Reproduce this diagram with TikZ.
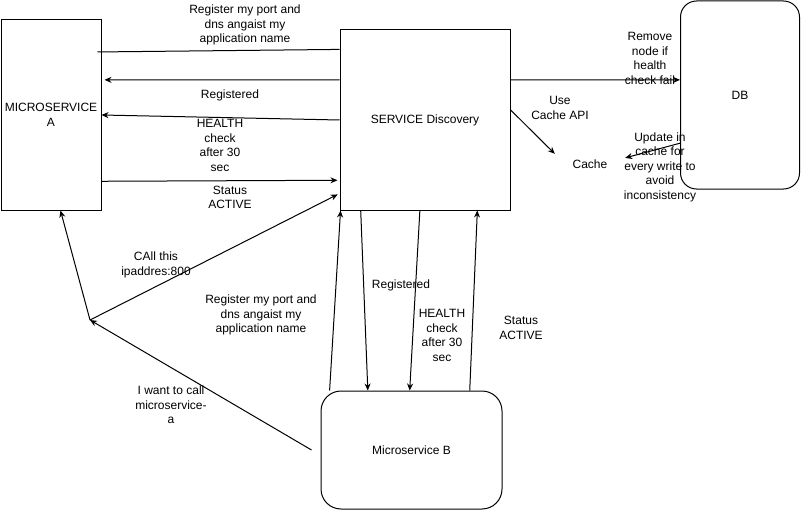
\documentclass[tikz,border=0pt]{standalone}
\usepackage{fontspec}
\setmainfont{Liberation Sans}
\usepackage{tikz}
\usetikzlibrary{calc, arrows.meta}
\tikzstyle{box}      = [rectangle, draw=black, line width=1pt, align=center, inner sep=0pt, font=\fontsize{12}{14.5}\selectfont]
\tikzstyle{roundbox} = [box, rounded corners=16pt]
\tikzstyle{lbl}      = [align=center, inner sep=0pt, font=\fontsize{12}{14.5}\selectfont]
\tikzstyle{arrow}    = [line width=1pt, -{Stealth[length=7pt,width=6pt]}]
\tikzstyle{plain}    = [line width=1pt]

\begin{document}
\begin{tikzpicture}[x=1pt,y=-1pt]
  \useasboundingbox (0,0) rectangle (801,511);
  \node[box, minimum width=100pt, minimum height=190pt] (MicroA) at (51,115) {MICROSERVICE\\A};
  \node[box, minimum width=170pt, minimum height=180pt] (SD) at (425,120) {SERVICE Discovery};
  \node[roundbox, minimum width=119pt, minimum height=188pt] (DB) at (740,95) {DB};
  \node[roundbox, minimum width=181pt, minimum height=118pt, rounded corners=20pt] (MicroB) at (411.5,450) {Microservice B};
  \node[lbl, minimum width=70pt, minimum height=20pt] (Cache) at (590,164) {Cache};
  \coordinate (Caller) at (90,320);
  % microservice A <-> service discovery
  \draw[plain] ([xshift=-4pt]$(MicroA.north east)!0.17!(MicroA.south east)$) -- ($(SD.north west)!0.11!(SD.south west)$);
  \draw[arrow, shorten >=3pt] ($(SD.north west)!0.278!(SD.south west)$) -- ($(MicroA.north east)!0.316!(MicroA.south east)$);
  \draw[arrow] ($(SD.north west)!0.5!(SD.south west)$) -- ($(MicroA.north east)!0.5!(MicroA.south east)$);
  \draw[arrow, shorten >=2pt] ($(MicroA.north east)!0.847!(MicroA.south east)$) -- ($(SD.north west)!0.833!(SD.south west)$);
  \node[lbl] (RegA) at (245,25) {Register my port and\\dns angaist my\\application name};
  \node[lbl] (RegdA) at (230,95) {Registered};
  \node[lbl] (HealthA) at (220,145.5) {HEALTH\\check\\after 30\\sec};
  \node[lbl] (StatusA) at (230,197.5) {Status\\ACTIVE};
  % call path
  \draw[arrow, shorten >=2pt] (Caller) -- ($(SD.north west)!0.906!(SD.south west)$);
  \draw[arrow] (Caller) -- ($(MicroA.south west)!0.594!(MicroA.south east)$);
  \draw[arrow] ([xshift=-9pt]MicroB.west) -- (Caller);
  \node[lbl] (CallIp) at (156,265) {CAll this\\ipaddres:800};
  \node[lbl] (WantCall) at (171,405) {I want to call\\microservice-\\a};
  % microservice B <-> service discovery
  \draw[arrow] ($(MicroB.north west)!0.05!(MicroB.north east)$) -- ($(SD.south west)!0.006!(SD.south east)$);
  \draw[arrow] ($(SD.south west)!0.124!(SD.south east)$) -- ($(MicroB.north west)!0.26!(MicroB.north east)$);
  \draw[arrow] ($(SD.south west)!0.47!(SD.south east)$) -- ($(MicroB.north west)!0.49!(MicroB.north east)$);
  \draw[arrow] ($(MicroB.north west)!0.82!(MicroB.north east)$) -- ($(SD.south west)!0.806!(SD.south east)$);
  \node[lbl] (RegB) at (261,315) {Register my port and\\dns angaist my\\application name};
  \node[lbl] (RegdB) at (401,285) {Registered};
  \node[lbl] (HealthB) at (442,335.5) {HEALTH\\check\\after 30\\sec};
  \node[lbl] (StatusB) at (521,328) {Status\\ACTIVE};
  % service discovery -> DB and cache
  \draw[arrow] ($(SD.north east)!0.278!(SD.south east)$) -- ($(DB.north west)!0.42!(DB.south west)$);
  \draw[arrow] ($(SD.north east)!0.444!(SD.south east)$) -- (Cache.north west);
  \draw[arrow] ($(DB.north west)!0.755!(DB.south west)$) -- ($(Cache.north east)!0.2!(Cache.south east)$);
  \node[lbl] (Remove) at (650,58.5) {Remove\\node if\\health\\check fail};
  \node[lbl] (UseCache) at (560,108) {Use\\Cache API};
  \node[lbl] (Update) at (660,167) {Update in\\cache for\\every write to\\avoid\\inconsistency};
\end{tikzpicture}
\end{document}
